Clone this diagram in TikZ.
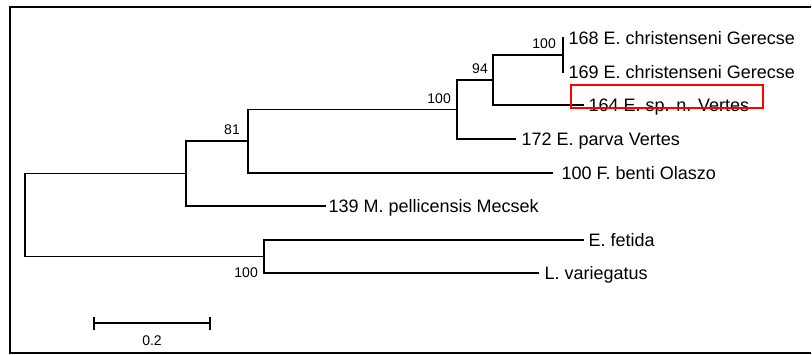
\documentclass[tikz,border=0pt]{standalone}
\usepackage{fontspec}
\setmainfont{Liberation Sans}
\begin{document}
\begin{tikzpicture}[x=1pt,y=-1pt,
  branch/.style={line width=1.1pt,line cap=rect},
  leaflabel/.style={anchor=base west,inner sep=0pt,font=\fontsize{18}{20}\selectfont},
  support/.style={anchor=base east,inner sep=0pt,font=\fontsize{14}{16}\selectfont},
  frameline/.style={line width=2pt},
  highlight/.style={draw=red,line width=2pt}]
\fill[white] (0,0) rectangle (812,354);
\useasboundingbox (0,0) rectangle (812,354);
% frame
\coordinate (ftl) at (10,7);
\coordinate (ftr) at (811,7);
\coordinate (fbl) at (10,353);
\coordinate (fbr) at (811,353);
\draw[frameline] (ftr) -- (ftl) -- (fbl) -- (fbr);
% tree nodes
\coordinate (root) at (25,215.5);
\coordinate (nA) at (186,173.5);
\coordinate (nB) at (264,256.5);
\coordinate (nC) at (248,141);
\coordinate (nD) at (457,109.5);
\coordinate (nE) at (493,80);
\coordinate (nF) at (563,55);
\coordinate (t168) at (563,38);
\coordinate (t169) at (563,72);
\coordinate (t164) at (583,105);
\coordinate (t172) at (515,139);
\coordinate (t100) at (552,173);
\coordinate (t139) at (325,206);
\coordinate (tfet) at (583,240);
\coordinate (tlv) at (538,273);
% branches
\draw[branch] (root) |- (nA);
\draw[branch] (root) |- (nB);
\draw[branch] (nA) |- (nC);
\draw[branch] (nA) |- (t139);
\draw[branch] (nC) |- (nD);
\draw[branch] (nC) |- (t100);
\draw[branch] (nD) |- (nE);
\draw[branch] (nD) |- (t172);
\draw[branch] (nE) |- (nF);
\draw[branch] (nE) |- (t164);
\draw[branch] (nF) |- (t168);
\draw[branch] (nF) |- (t169);
\draw[branch] (nB) |- (tfet);
\draw[branch] (nB) |- (tlv);
% leaf labels
\node[leaflabel] (l168) at (568.5,44) {168 E. christenseni Gerecse};
\node[leaflabel] (l169) at (568.5,78) {169 E. christenseni Gerecse};
\node[leaflabel] (l164) at (588.5,111) {164 E. sp. n. Vertes};
\node[leaflabel] (l172) at (521.5,145) {172 E. parva Vertes};
\node[leaflabel] (l100) at (561.5,179) {100 F. benti Olaszo};
\node[leaflabel] (l139) at (328.5,212) {139 M. pellicensis Mecsek};
\node[leaflabel] (lfet) at (588.5,246) {E. fetida};
\node[leaflabel] (llv) at (544.5,279) {L. variegatus};
% support values
\node[support] (s100a) at (556,48) {100};
\node[support] (s94) at (488,73) {94};
\node[support] (s100b) at (451,103) {100};
\node[support] (s81) at (240,134) {81};
\node[support] (s100c) at (258,277) {100};
% highlight box
\draw[highlight] (571,85) rectangle (763,108.3);
% scale bar
\coordinate (sbl) at (94,323);
\coordinate (sbr) at (210,323);
\draw[branch,line cap=butt] (sbl) -- (sbr);
\draw[branch,line cap=butt] ([yshift=-6.5pt]sbl) -- ([yshift=6.5pt]sbl);
\draw[branch,line cap=butt] ([yshift=-6.5pt]sbr) -- ([yshift=6.5pt]sbr);
\node[anchor=base,inner sep=0pt,font=\fontsize{14}{16}\selectfont] (sblabel) at (152,345) {0.2};
\end{tikzpicture}
\end{document}
